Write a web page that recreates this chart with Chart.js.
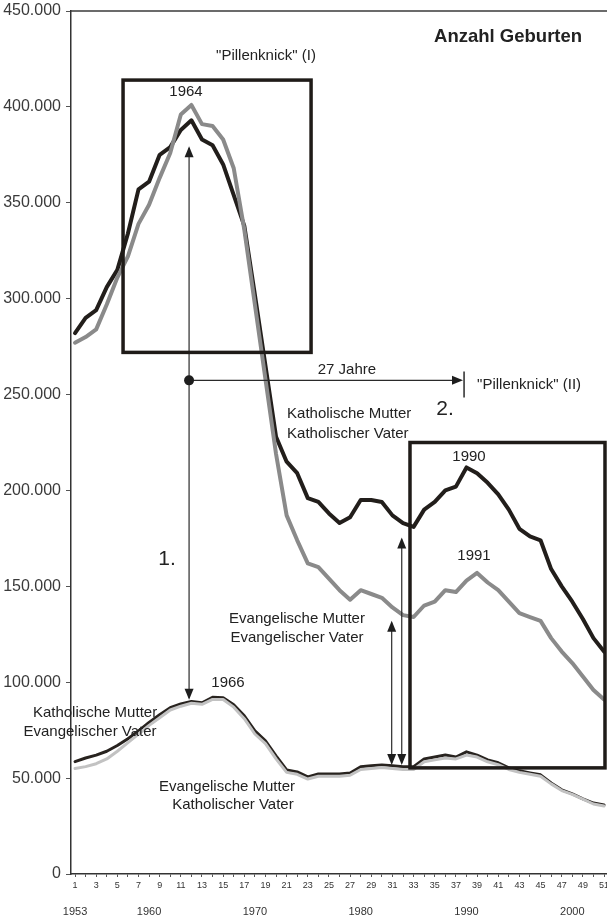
<!DOCTYPE html>
<html><head><meta charset="utf-8">
<script src="https://cdn.jsdelivr.net/npm/chart.js@4/dist/chart.umd.min.js"></script>
<style>html,body{margin:0;padding:0;background:#fff;}canvas{display:block;}</style>
</head><body>
<canvas id="c" width="607" height="917"></canvas>
<script>
// ---- data ----
const years = [1953,1954,1955,1956,1957,1958,1959,1960,1961,1962,1963,1964,1965,1966,1967,1968,1969,1970,1971,1972,1973,1974,1975,1976,1977,1978,1979,1980,1981,1982,1983,1984,1985,1986,1987,1988,1989,1990,1991,1992,1993,1994,1995,1996,1997,1998,1999,2000,2001,2002,2003];
const indexTickLabels = [1,3,5,7,9,11,13,15,17,19,21,23,25,27,29,31,33,35,37,39,41,43,45,47,49,51];
const yearTickLabels = ['1953','1960','1970','1980','1990','2000'];
const yTicks = [0,50000,100000,150000,200000,250000,300000,350000,400000,450000];

// Katholische Mutter / Katholischer Vater
const kathKath = [282000,290000,294000,306000,315000,334000,357000,361000,375000,379000,388000,393000,383000,380000,370000,354000,338000,302000,265000,228000,215000,209000,196000,194000,188000,183000,186000,195000,195000,194000,187000,183000,181000,190000,194000,200000,202000,212000,209000,204000,198000,190000,180000,176000,174000,159000,150000,142000,133000,123000,116000];
// Evangelische Mutter / Evangelischer Vater
const evEv = [277000,280000,284000,297000,311000,322000,339000,349000,363000,376000,396000,401000,391000,390000,383000,368000,336000,297000,258000,219000,187000,174000,162000,160000,154000,148000,143000,148000,146000,144000,139000,135000,134000,140000,142000,148000,147000,153000,157000,152000,148000,142000,136000,134000,132000,123000,116000,110000,103000,96000,91000];
// Katholische Mutter / Evangelischer Vater
const kathEv = [58600,60500,62000,64000,67000,70500,74600,79000,83000,86700,88700,90000,89300,92100,91900,88200,82500,74600,69400,61600,54300,53200,50600,52200,52200,52200,52700,55900,56400,56900,56400,55900,55900,60000,61000,62000,61000,63700,62000,59500,58000,55300,53800,52700,51700,47500,43900,41800,39200,37000,36000];
// Evangelische Mutter / Katholischer Vater
const evKath = [55000,56000,57500,60000,64000,68500,73000,77500,81500,85500,87500,89000,88500,91000,91000,87000,81000,73000,68000,60000,53000,52000,49500,51000,51000,51000,51500,54500,55000,55500,55000,54500,54500,58500,59500,60500,60000,62000,61000,58500,57000,54500,53000,52000,51000,47000,43500,41500,39000,36500,35500];

// ---- annotations (positions in data units) ----
const notes = {
  boxes: [
    {x1:5.54, x2:23.31, y1:271983, y2:413976},
    {x1:32.66, x2:51.09, y1:55336, y2:225000}
  ],
  texts: [
    {t:'Anzahl Geburten', x:41.93, y:436400, size:18.5, bold:true},
    {t:'"Pillenknick" (I)', x:19.05, y:426500, size:15},
    {t:'1964', x:11.49, y:407700, size:15},
    {t:'27 Jahre', x:26.7, y:263100, size:15},
    {t:'"Pillenknick" (II)', x:39.0, y:255300, size:15, align:'left'},
    {t:'2.', x:35.97, y:242200, size:21},
    {t:'1.', x:9.70, y:163900, size:21},
    {t:'Katholische Mutter', x:21.04, y:240100, size:15, align:'left'},
    {t:'Katholischer Vater', x:21.04, y:229700, size:15, align:'left'},
    {t:'1990', x:38.24, y:217700, size:15},
    {t:'1991', x:38.71, y:166000, size:15},
    {t:'Evangelische Mutter', x:21.98, y:133100, size:15},
    {t:'Evangelischer Vater', x:21.98, y:123200, size:15},
    {t:'1966', x:15.46, y:99700, size:15},
    {t:'Katholische Mutter', x:2.89, y:84050, size:15},
    {t:'Evangelischer Vater', x:2.42, y:74100, size:15},
    {t:'Evangelische Mutter', x:15.37, y:45400, size:15},
    {t:'Katholischer Vater', x:15.93, y:36000, size:15}
  ],
  vArrows: [
    {x:11.78, y1:90800, y2:379500},
    {x:30.93, y1:56900, y2:132100},
    {x:31.88, y1:56900, y2:175400}
  ],
  hArrow: {y:257400, x1:11.78, x2:37.67},
  bar: {x:37.77, y1:248500, y2:262000},
  dot: {x:11.78, y:257400}
};

const FONT = "'Liberation Sans', Arial, Helvetica, sans-serif";
const pts = arr => arr.map((v,i)=>({x:i+1, y:v}));
const fmt = v => String(v).replace(/\B(?=(\d{3})+(?!\d))/g, '.');

function head(ctx, x, y, dir){
  const L = 11, W = 4.5;
  ctx.beginPath();
  ctx.moveTo(x, y);
  if (dir==='up'){ ctx.lineTo(x-W, y+L); ctx.lineTo(x+W, y+L); }
  else if (dir==='down'){ ctx.lineTo(x-W, y-L); ctx.lineTo(x+W, y-L); }
  else { ctx.lineTo(x-L, y-W); ctx.lineTo(x-L, y+W); }
  ctx.closePath(); ctx.fill();
}

const annotPlugin = {
  id:'annot',
  afterDatasetsDraw(chart){
    const {ctx, chartArea:ca, scales:{x, y}} = chart;
    const X = v => x.getPixelForValue(v), Y = v => y.getPixelForValue(v);
    ctx.save();
    ctx.strokeStyle='#3a3a3a'; ctx.lineWidth=1.5;
    ctx.beginPath(); ctx.moveTo(ca.left, ca.top); ctx.lineTo(ca.right, ca.top); ctx.stroke();
    ctx.strokeStyle='#2a2a2a'; ctx.fillStyle='#1e1e1e'; ctx.lineWidth=1.2;
    notes.vArrows.forEach(a=>{
      const px = X(a.x), ya = Y(a.y1), yb = Y(a.y2);
      ctx.beginPath(); ctx.moveTo(px, ya-2); ctx.lineTo(px, yb+2); ctx.stroke();
      head(ctx, px, ya, 'down'); head(ctx, px, yb, 'up');
    });
    const h = notes.hArrow;
    ctx.beginPath(); ctx.moveTo(X(h.x1), Y(h.y)); ctx.lineTo(X(h.x2)-2, Y(h.y)); ctx.stroke();
    head(ctx, X(h.x2), Y(h.y), 'right');
    ctx.lineWidth=1.5;
    ctx.beginPath(); ctx.moveTo(X(notes.bar.x), Y(notes.bar.y1)); ctx.lineTo(X(notes.bar.x), Y(notes.bar.y2)); ctx.stroke();
    ctx.beginPath(); ctx.arc(X(notes.dot.x), Y(notes.dot.y), 5, 0, Math.PI*2); ctx.fill();
    ctx.strokeStyle='#1f1b18'; ctx.lineWidth=3.5; ctx.lineJoin='miter';
    notes.boxes.forEach(b=>{ ctx.strokeRect(X(b.x1), Y(b.y2), X(b.x2)-X(b.x1), Y(b.y1)-Y(b.y2)); });
    ctx.fillStyle='#222'; ctx.textBaseline='middle';
    notes.texts.forEach(t=>{
      ctx.font = (t.bold?'bold ':'') + t.size + 'px ' + FONT;
      ctx.textAlign = t.align || 'center';
      ctx.fillText(t.t, X(t.x), Y(t.y));
    });
    ctx.restore();
  }
};

new Chart(document.getElementById('c'), {
  type:'line',
  data:{ datasets:[
    {label:'Evangelische Mutter / Katholischer Vater', data:pts(evKath), borderColor:'#c2c2c2', borderWidth:3},
    {label:'Katholische Mutter / Evangelischer Vater', data:pts(kathEv), borderColor:'#28231f', borderWidth:3},
    {label:'Evangelische Mutter / Evangelischer Vater', data:pts(evEv), borderColor:'#8a8a8a', borderWidth:4},
    {label:'Katholische Mutter / Katholischer Vater', data:pts(kathKath), borderColor:'#221e1b', borderWidth:4}
  ]},
  options:{
    responsive:false, animation:false, devicePixelRatio:1,
    layout:{padding:{top:11,left:0,right:0,bottom:0}},
    plugins:{legend:{display:false}, tooltip:{enabled:false}},
    elements:{point:{radius:0}, line:{tension:0, borderJoinStyle:'round', borderCapStyle:'round'}},
    scales:{
      x:{type:'linear', min:0.62, max:51.28, position:'bottom', weight:0,
        grid:{drawOnChartArea:false, drawTicks:true, tickLength:3, color:'#555'},
        border:{display:true, color:'#333', width:1.5},
        afterBuildTicks: s => { s.ticks = years.map((yr,i)=>({value:i+1})); },
        ticks:{autoSkip:false, maxRotation:0, minRotation:0, padding:3, color:'#333', font:{size:9, family:FONT},
          callback: v => indexTickLabels.includes(v) ? String(v) : ''},
        afterFit: s => { s.height = 20; s.paddingLeft = 0; s.paddingRight = 0; }
      },
      years:{type:'linear', min:0.62, max:51.28, position:'bottom', weight:1,
        grid:{display:false}, border:{display:false},
        afterBuildTicks: s => { s.ticks = yearTickLabels.map(l=>({value: years.indexOf(+l)+1})); },
        ticks:{autoSkip:false, maxRotation:0, minRotation:0, padding:3, color:'#333', font:{size:11, family:FONT},
          callback: (v,i) => yearTickLabels[i]},
        afterFit: s => { s.height = 23; s.paddingLeft = 0; s.paddingRight = 0; }
      },
      y:{type:'linear', min:0, max:450000,
        afterBuildTicks: s => { s.ticks = yTicks.map(v=>({value:v})); },
        grid:{drawOnChartArea:false, drawTicks:true, tickLength:5, color:'#555'},
        border:{display:true, color:'#333', width:1.5},
        ticks:{padding:5, color:'#3a3a3a', font:{size:16, family:FONT}, callback: v => fmt(v)},
        afterFit: s => { s.width = 71; s.paddingTop = 0; s.paddingBottom = 0; }
      }
    }
  },
  plugins:[annotPlugin]
});
</script>
</body></html>
